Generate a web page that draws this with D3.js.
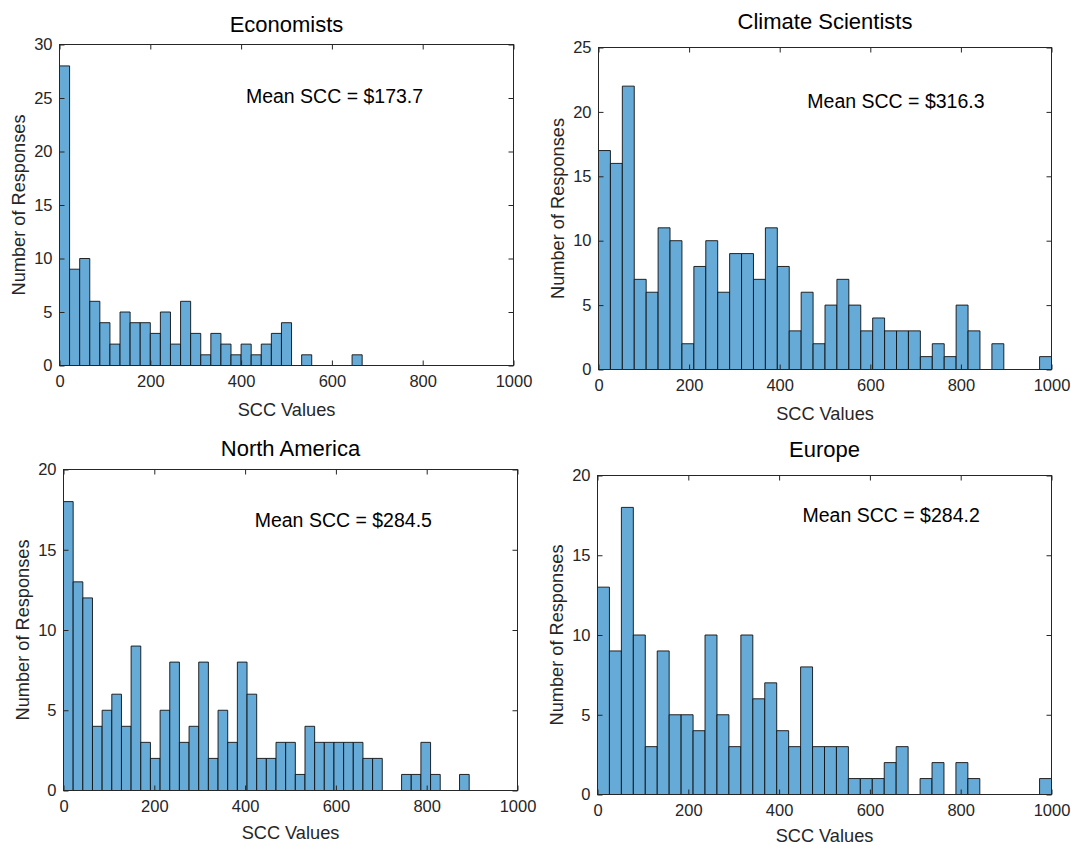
<!DOCTYPE html>
<html>
<head>
<meta charset="utf-8">
<script src="https://cdn.jsdelivr.net/npm/d3@7"></script>
<style>
  html, body { margin: 0; padding: 0; background: #fff; }
  svg { display: block; }
  text { font-family: "Liberation Sans", Arial, Helvetica, sans-serif; }
</style>
</head>
<body>
<svg id="chart" width="1071" height="845"></svg>
<script>
// ---- Data ----
const econCounts    = [28, 9, 10, 6, 4, 2, 5, 4, 4, 3, 5, 2, 6, 3, 1, 3, 2, 1, 2, 1, 2, 3, 4, 0, 1, 0, 0, 0, 0, 1, 0, 0, 0, 0, 0, 0, 0, 0, 0, 0, 0, 0, 0, 0, 0];
const climateCounts = [17, 16, 22, 7, 6, 11, 10, 2, 8, 10, 6, 9, 9, 7, 11, 8, 3, 6, 2, 5, 7, 5, 3, 4, 3, 3, 3, 1, 2, 1, 5, 3, 0, 2, 0, 0, 0, 1];
const naCounts      = [18, 13, 12, 4, 5, 6, 4, 9, 3, 2, 5, 8, 3, 4, 8, 2, 5, 3, 8, 6, 2, 2, 3, 3, 1, 4, 3, 3, 3, 3, 3, 2, 2, 0, 0, 1, 1, 3, 1, 0, 0, 1, 0, 0, 0, 0, 0];
const europeCounts  = [13, 9, 18, 10, 3, 9, 5, 5, 4, 10, 5, 3, 10, 6, 7, 4, 3, 8, 3, 3, 3, 1, 1, 1, 2, 3, 0, 1, 2, 0, 2, 1, 0, 0, 0, 0, 0, 1];

const xDomain = [0, 1000];
const xTicks = [0, 200, 400, 600, 800, 1000];
const econYTicks    = [0, 5, 10, 15, 20, 25, 30];
const climateYTicks = [0, 5, 10, 15, 20, 25];
const naYTicks      = [0, 5, 10, 15, 20];
const europeYTicks  = [0, 5, 10, 15, 20];

const titles = ["Economists", "Climate Scientists", "North America", "Europe"];
const meanLabels = ["Mean SCC = $173.7", "Mean SCC = $316.3", "Mean SCC = $284.5", "Mean SCC = $284.2"];
const xLabel = "SCC Values";
const yLabel = "Number of Responses";

// ---- Layout ----
const panels = [
  { counts: econCounts,    yTicks: econYTicks,    L: 59.5,  T: 44.5,  R: 513.5,  B: 365.5, titleY: 32.3,  meanX: 245.9, meanY: 103.3, xlabOff: 50 },
  { counts: climateCounts, yTicks: climateYTicks, L: 598.5, T: 47.5,  R: 1051.5, B: 369.5, titleY: 29.3,  meanX: 807.3, meanY: 108.3, xlabOff: 50 },
  { counts: naCounts,      yTicks: naYTicks,      L: 63.5,  T: 469.5, R: 517.5,  B: 790.5, titleY: 456.0, meanX: 254.7, meanY: 527.0, xlabOff: 48.5 },
  { counts: europeCounts,  yTicks: europeYTicks,  L: 597.5, T: 475.5, R: 1051.5, B: 794.5, titleY: 457.3, meanX: 802.5, meanY: 522.0, xlabOff: 47 }
];

const axisColor = "#262626";
const barFill = "#66aad7";
const tickLen = 5;

const svg = d3.select("#chart");

panels.forEach((p, i) => {
  const g = svg.append("g");
  const n = p.counts.length;
  const binW = (xDomain[1] - xDomain[0]) / n;
  const x = d3.scaleLinear().domain(xDomain).range([p.L, p.R]);
  const yMax = p.yTicks[p.yTicks.length - 1];
  const y = d3.scaleLinear().domain([0, yMax]).range([p.B, p.T]);

  // bars
  const bins = p.counts.map((c, k) => ({ x0: xDomain[0] + k * binW, x1: xDomain[0] + (k + 1) * binW, c }));
  g.append("g").selectAll("path").data(bins).join("path")
    .attr("d", d => {
      const x0 = x(d.x0), x1 = x(d.x1), y0 = y(0), y1 = y(d.c);
      return `M${x0},${y0}V${y1}H${x1}V${y0}Z`;
    })
    .attr("fill", barFill)
    .attr("stroke", "#111")
    .attr("stroke-width", 0.9);

  // axes (bottom/left with labels), ticks inward
  const xAxis = d3.axisBottom(x).tickValues(xTicks).tickSizeInner(-tickLen).tickSizeOuter(0).tickPadding(10).tickFormat(d3.format("d"));
  const gx = g.append("g").attr("transform", `translate(0,${p.B})`).call(xAxis);
  const yAxis = d3.axisLeft(y).tickValues(p.yTicks).tickSizeInner(-tickLen).tickSizeOuter(0).tickPadding(7).tickFormat(d3.format("d"));
  const gy = g.append("g").attr("transform", `translate(${p.L},0)`).call(yAxis);
  // top and right ticks
  const xTop = d3.axisTop(x).tickValues(xTicks).tickSizeInner(-tickLen).tickSizeOuter(0).tickFormat("");
  const gxt = g.append("g").attr("transform", `translate(0,${p.T})`).call(xTop);
  const yRight = d3.axisRight(y).tickValues(p.yTicks).tickSizeInner(-tickLen).tickSizeOuter(0).tickFormat("");
  const gyr = g.append("g").attr("transform", `translate(${p.R},0)`).call(yRight);

  [gx, gy, gxt, gyr].forEach(a => {
    a.select(".domain").remove();
    a.selectAll(".tick line").attr("stroke", axisColor).attr("stroke-width", 1);
    a.selectAll(".tick text").attr("fill", axisColor).style("font-size", "16.5px")
      .style("font-family", '"Liberation Sans", Arial, Helvetica, sans-serif');
  });
  gx.selectAll(".tick text").attr("dy", "0.71em");

  // box
  g.append("rect")
    .attr("x", p.L).attr("y", p.T)
    .attr("width", p.R - p.L).attr("height", p.B - p.T)
    .attr("fill", "none").attr("stroke", axisColor).attr("stroke-width", 1);

  // title
  g.append("text")
    .attr("x", (p.L + p.R) / 2).attr("y", p.titleY)
    .attr("text-anchor", "middle")
    .style("font-size", "22px").attr("fill", "#000")
    .text(titles[i]);

  // mean label
  g.append("text")
    .attr("x", p.meanX).attr("y", p.meanY)
    .style("font-size", "19.5px").attr("fill", "#000")
    .text(meanLabels[i]);

  // x label
  g.append("text")
    .attr("x", (p.L + p.R) / 2).attr("y", p.B + p.xlabOff)
    .attr("text-anchor", "middle")
    .style("font-size", "18.2px").attr("fill", axisColor)
    .text(xLabel);

  // y label
  g.append("text")
    .attr("transform", `translate(${p.L - 34.5},${(p.T + p.B) / 2}) rotate(-90)`)
    .attr("text-anchor", "middle")
    .style("font-size", "18.2px").attr("fill", axisColor)
    .text(yLabel);
});
</script>
</body>
</html>
